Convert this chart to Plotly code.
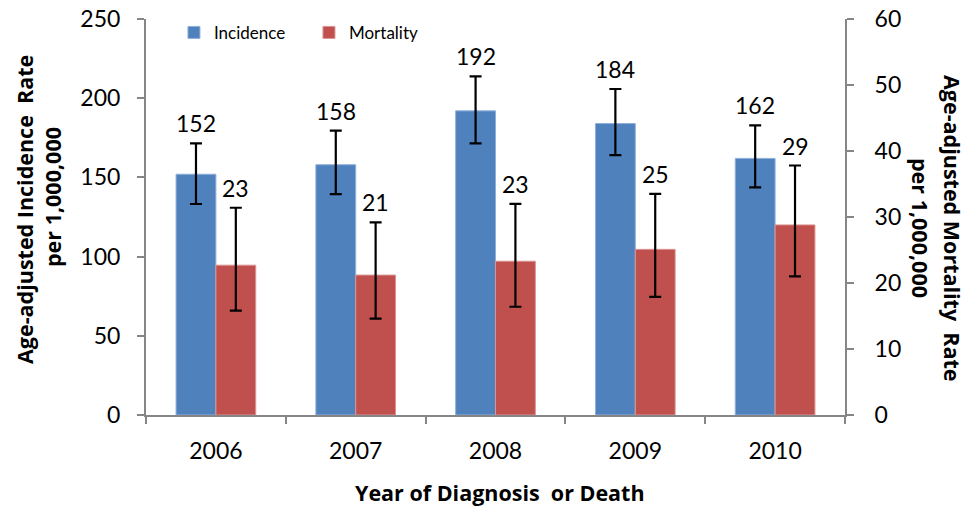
import plotly.graph_objects as go

years = ["2006", "2007", "2008", "2009", "2010"]
incidence = [152, 158, 192, 184, 162]
inc_upper = [171.5, 179.5, 213.8, 205.8, 182.9]
inc_lower = [133.2, 139.5, 171.5, 164.0, 143.7]
mortality = [22.7, 21.2, 23.3, 25.1, 28.8]
mort_upper = [31.4, 29.2, 32.0, 33.5, 37.8]
mort_lower = [15.8, 14.6, 16.4, 17.9, 21.0]
inc_labels = ["152", "158", "192", "184", "162"]
mort_labels = ["23", "21", "23", "25", "29"]

BLUE = "#4F81BD"
RED = "#C0504D"
AX = "#868686"
FONT = "Lato"
TFONT = "Open Sans"

fig = go.Figure()
fig.add_trace(go.Bar(
    x=years, y=incidence, name="Incidence", yaxis="y", offsetgroup="1",
    marker=dict(color=BLUE, line=dict(color="#8FB0DA", width=1)),
    error_y=dict(type="data", symmetric=False,
                 array=[u - v for u, v in zip(inc_upper, incidence)],
                 arrayminus=[v - l for v, l in zip(incidence, inc_lower)],
                 color="black", thickness=2.2, width=6),
))
fig.add_trace(go.Bar(
    x=years, y=mortality, name="Mortality", yaxis="y2", offsetgroup="2",
    marker=dict(color=RED, line=dict(color="#DA9593", width=1)),
    error_y=dict(type="data", symmetric=False,
                 array=[u - v for u, v in zip(mort_upper, mortality)],
                 arrayminus=[v - l for v, l in zip(mortality, mort_lower)],
                 color="black", thickness=2.2, width=6),
))

annotations = []
for i, (up, lab) in enumerate(zip(inc_upper, inc_labels)):
    annotations.append(dict(x=i, y=up, xref="x", yref="y", text=lab, showarrow=False,
                            xanchor="center", yanchor="bottom", xshift=-20, yshift=4,
                            font=dict(family=FONT, size=23, color="black")))
for i, (up, lab) in enumerate(zip(mort_upper, mort_labels)):
    annotations.append(dict(x=i, y=up, xref="x", yref="y2", text=lab, showarrow=False,
                            xanchor="center", yanchor="bottom", xshift=20, yshift=4,
                            font=dict(family=FONT, size=23, color="black")))

title_font = dict(family=TFONT, size=21.5, color="black")
annotations.append(dict(x=(25 - 146) / 699, y=1 - (210 - 19) / 396, xref="paper", yref="paper",
                        text="<b>Age-adjusted Incidence  Rate</b>", textangle=-90, showarrow=False,
                        xanchor="center", yanchor="middle", font=title_font))
annotations.append(dict(x=(52 - 146) / 699, y=1 - (197 - 19) / 396, xref="paper", yref="paper",
                        text="<b>per 1,000,000</b>", textangle=-90, showarrow=False,
                        xanchor="center", yanchor="middle", font=title_font))
annotations.append(dict(x=(953 - 146) / 699, y=1 - (228 - 19) / 396, xref="paper", yref="paper",
                        text="<b>Age-adjusted Mortality  Rate</b>", textangle=90, showarrow=False,
                        xanchor="center", yanchor="middle", font=title_font))
annotations.append(dict(x=(921 - 146) / 699, y=1 - (228 - 19) / 396, xref="paper", yref="paper",
                        text="<b>per 1,000,000</b>", textangle=90, showarrow=False,
                        xanchor="center", yanchor="middle", font=title_font))
annotations.append(dict(x=(500 - 146) / 699, y=(415 - 492) / 396, xref="paper", yref="paper",
                        text="<b>Year of Diagnosis  or Death</b>", showarrow=False,
                        xanchor="center", yanchor="middle", font=title_font))

fig.update_layout(
    width=968, height=507,
    margin=dict(l=146, r=123, t=19, b=92, pad=0, autoexpand=False),
    paper_bgcolor="white", plot_bgcolor="white",
    barmode="group", bargap=0.43, bargroupgap=0,
    font=dict(family=FONT, size=22, color="black"),
    showlegend=True,
    legend=dict(orientation="h", x=0.04, y=0.965, xanchor="left", yanchor="middle",
                font=dict(family=FONT, size=17, color="black"),
                entrywidth=90, entrywidthmode="pixels", bgcolor="rgba(0,0,0,0)"),
    xaxis=dict(type="category", categoryorder="array", categoryarray=years,
               range=[-0.5, len(years) - 0.5], autorange=False, automargin=False,
               showline=True, linecolor=AX, linewidth=2,
               ticks="outside", tickson="boundaries", ticklen=7, tickcolor=AX, tickwidth=2,
               tickfont=dict(family=FONT, size=23), tickangle=0, ticklabelstandoff=14,
               showgrid=False, zeroline=False),
    yaxis=dict(range=[0, 250], dtick=50, showline=True, linecolor=AX, linewidth=2,
               ticks="outside", ticklen=7, tickcolor=AX, tickwidth=2, automargin=False,
               tickfont=dict(family=FONT, size=23), ticklabelstandoff=12,
               showgrid=False, zeroline=False),
    yaxis2=dict(range=[0, 60], dtick=10, overlaying="y", side="right", showline=True,
                linecolor=AX, linewidth=2, ticks="outside", ticklen=7, tickcolor=AX, tickwidth=2,
                tickfont=dict(family=FONT, size=23), ticklabelstandoff=16, automargin=False,
                showgrid=False, zeroline=False),
    annotations=annotations,
)

fig.write_html("out.html", config={"displayModeBar": False},
               post_script="document.body.style.margin='0';")
